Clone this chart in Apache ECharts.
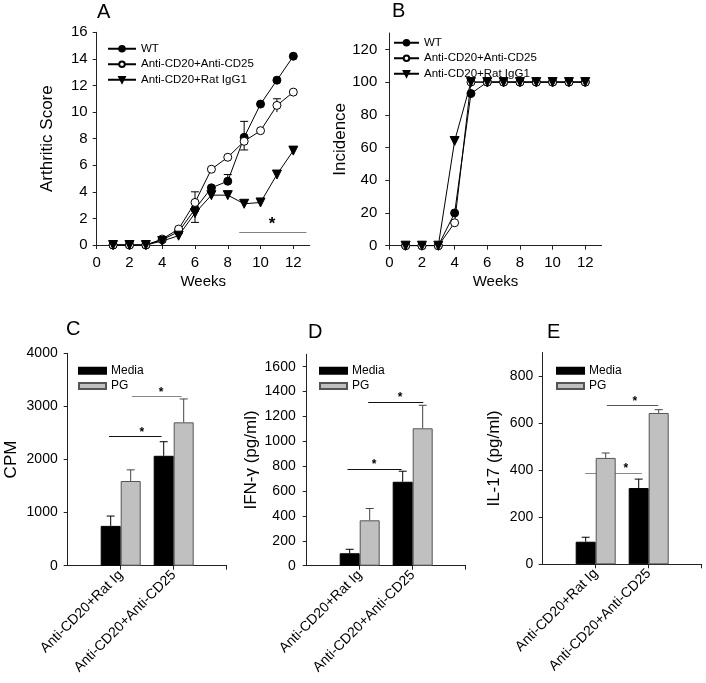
<!DOCTYPE html>
<html><head><meta charset="utf-8">
<script src="https://cdn.jsdelivr.net/npm/echarts@6/dist/echarts.min.js"></script>
<style>html,body{margin:0;padding:0;background:#fff}#c{width:706px;height:683px}</style>
</head><body><div id="c"></div>
<script>
// ---------- data ----------
const weeks = [1,2,3,4,5,6,7,8,9,10,11,12];
const weekTicks = [0,2,4,6,8,10,12];
const seriesNames = ['WT','Anti-CD20+Anti-CD25','Anti-CD20+Rat IgG1'];
const wtScore   = [0,0,0,0.4,1.0,2.7,4.3,4.8,8.1,10.6,12.4,14.2];
const cd25Score = [0,0,0,0.45,1.2,3.2,5.7,6.6,7.8,8.6,10.5,11.5];
const ratScore  = [0,0,0,0.3,0.7,2.4,3.75,3.75,3.1,3.2,5.3,7.1];
// error bars: [week, from, to]
const wtScoreErr   = [[4,0.4,0.6],[8,4.8,5.3],[9,8.1,9.3]];
const cd25ScoreErr = [[6,3.2,4.0],[9,7.8,7.15],[11,10.0,11.0]];
const ratScoreErr  = [[6,2.4,1.7]];
const scoreTicks = [0,2,4,6,8,10,12,14,16];
// significance bars: [fromX, toX, y, starX]
const sigA = [[8.7,12.8,0.93,10.7]];

const wtInc   = [0,0,0,20,93,100,100,100,100,100,100,100];
const cd25Inc = [0,0,0,14,100,100,100,100,100,100,100,100];
const ratInc  = [0,0,0,64,100,100,100,100,100,100,100,100];
const incTicks = [0,20,40,60,80,100,120];

const groups = ['Anti-CD20+Rat Ig','Anti-CD20+Anti-CD25'];
const barNames = ['Media','PG'];
const cpmMedia = [750, 2070],  cpmMediaTop = [935, 2335];
const cpmPG    = [1595, 2700], cpmPGTop    = [1805, 3140];
const cpmTicks = [0,1000,2000,3000,4000];
const sigC = [[0.78,1.77,2430,1.40],[1.21,2.15,3185,1.76]];

const ifnMedia = [100, 675],  ifnMediaTop = [132, 760];
const ifnPG    = [365, 1105], ifnPGTop    = [460, 1290];
const ifnTicks = [0,200,400,600,800,1000,1200,1400,1600];
const sigD = [[0.77,1.79,778,1.27],[1.16,2.2,1316,1.76]];

const il17Media = [96, 324],  il17MediaTop = [115, 362];
const il17PG    = [452, 643], il17PGTop    = [473, 657];
const il17Ticks = [0,200,400,600,800];
const sigE = [[0.80,1.87,388,1.57],[1.21,2.18,675,1.74]];

// ---------- styles ----------
const FONT = '"Liberation Sans", Arial, sans-serif';
const AX = '#222';
const sigColA = ['#808080'];
const sigColC = ['#111','#888'];
const sigColD = ['#111','#111'];
const sigColE = ['#888','#555'];

function xy(xs, ys){ return xs.map((x,i)=>[x, ys[i]]); }

function valueAxis(o){
  return Object.assign({
    type:'value', splitLine:{show:false},
    axisLine:{show:true, onZero:false, lineStyle:{color:AX, width:1}},
    axisTick:{show:true, length:4, inside:false, lineStyle:{color:AX}},
    axisLabel:{color:'#000', fontFamily:FONT, fontSize:15},
    nameTextStyle:{color:'#000', fontFamily:FONT, fontSize:17},
  }, o);
}

function weeksX(grid){
  return valueAxis({gridIndex:grid, min:0, max:13,
    axisTick:{show:true, length:4, lineStyle:{color:AX}, customValues:weekTicks},
    axisLabel:{color:'#000', fontFamily:FONT, fontSize:15, margin:10, customValues:weekTicks,
      formatter:(v)=>String(v)},
    name:'Weeks', nameLocation:'middle', nameGap:29,
    nameTextStyle:{color:'#000', fontFamily:FONT, fontSize:15}});
}
function leftY(grid, max, ticks, name, gap, fs, margin){
  return valueAxis({gridIndex:grid, min:0, max:max,
    axisTick:{show:true, length:4, lineStyle:{color:AX}, customValues:ticks},
    axisLabel:{color:'#000', fontFamily:FONT, fontSize:fs, margin:margin, customValues:ticks,
      formatter:(v)=>String(v)},
    name:name, nameLocation:'middle', nameRotate:90, nameGap:gap,
    nameTextStyle:{color:'#000', fontFamily:FONT, fontSize:17}});
}
function groupX(grid){
  return valueAxis({gridIndex:grid, min:0, max:3,
    axisTick:{show:true, length:4, lineStyle:{color:AX}, customValues:[1,2,3]},
    axisLabel:{color:'#000', fontFamily:FONT, fontSize:14, margin:7, rotate:45,
      customValues:[1,2], formatter:(v)=>groups[Math.round(v)-1]}});
}

const markers = [
  {symbol:'circle', size:8, fill:'#000', rot:0},
  {symbol:'circle', size:8, fill:'#fff', rot:0},
  {symbol:'triangle', size:9, fill:'#000', rot:180},
];
function lineSer(grid, idx, ys){
  const m = markers[idx];
  return {type:'line', name:seriesNames[idx], xAxisIndex:grid, yAxisIndex:grid,
    data:xy(weeks, ys), symbol:m.symbol, symbolSize:m.size, symbolRotate:m.rot,
    showSymbol:true, color:'#000', lineStyle:{color:'#000', width:1},
    itemStyle:{color:m.fill, borderColor:'#000', borderWidth:1},
    emphasis:{disabled:true}, animation:false, z:3};
}
function errSer(grid, data, offset, color, cap){
  return {type:'custom', xAxisIndex:grid, yAxisIndex:grid, data:data, z:2, silent:true,
    encode:{x:0, y:[1,2]}, animation:false,
    renderItem:(params, api)=>{
      const x = api.value(0), a = api.value(1), b = api.value(2);
      const p0 = api.coord([x,a]), p1 = api.coord([x,b]);
      const px = p0[0] + offset;
      return {type:'group', children:[
        {type:'line', shape:{x1:px, y1:p0[1], x2:px, y2:p1[1]}, style:{stroke:color, lineWidth:1}},
        {type:'line', shape:{x1:px-cap, y1:p1[1], x2:px+cap, y2:p1[1]}, style:{stroke:color, lineWidth:1}}
      ]};
    }};
}
function sigSer(grid, sig, cols, fs, dist){
  return {type:'line', xAxisIndex:grid, yAxisIndex:grid, data:[], z:1, silent:true, animation:false,
    markLine:{silent:true, z:1, symbol:['none','none'], animation:false,
      label:{show:false},
      data: sig.map((s,i)=>[
        {coord:[s[0], s[2]], lineStyle:{color:cols[i], width:1, type:'solid'}},
        {coord:[s[1], s[2]]}])},
    markPoint:{silent:true, z:4, animation:false, symbol:'circle', symbolSize:0,
      label:{show:true, position:'top', distance:dist, formatter:'*', color:'#000',
        fontSize:fs, fontWeight:'bold', fontFamily:FONT},
      data: sig.map(s=>({coord:[s[3], s[2]], value:'*'}))}};
}
function barSer(grid, nameIdx, vals){
  const media = nameIdx === 0;
  return {type:'bar', name:barNames[nameIdx], xAxisIndex:grid, yAxisIndex:grid,
    data:xy([1,2], vals), barWidth:20, barGap:'0%', z:2, animation:false,
    itemStyle:{color: media ? '#000' : '#c0c0c0', borderColor: media ? '#000' : '#555', borderWidth:1},
    emphasis:{disabled:true}};
}
function barErr(grid, vals, tops, offset, color){
  return errSer(grid, [1,2].map((x,i)=>[x, vals[i], tops[i]]), offset, color, 4);
}

const titleStyle = {fontSize:20, fontWeight:'normal', fontFamily:FONT, color:'#000'};
const lineLegend = (left, top, w) => ({left, top, orient:'vertical', padding:0, itemGap:2,
  itemWidth:w, itemHeight:7, selectedMode:false, data:seriesNames,
  textStyle:{fontSize:11.5, color:'#000', fontFamily:FONT, lineHeight:13.5}});
const barLegend = (left, top) => ({left, top, orient:'vertical', padding:0, itemGap:2,
  itemWidth:27, itemHeight:6, selectedMode:false,
  data:[{name:'Media', icon:'rect'},{name:'PG', icon:'rect'}],
  textStyle:{fontSize:12, color:'#000', fontFamily:FONT, lineHeight:13.3}});

const option = {
  backgroundColor:'#fff', animation:false,
  textStyle:{fontFamily:FONT},
  title:[
    {text:'A', left:97, top:2, padding:0, textStyle:titleStyle},
    {text:'B', left:392, top:1, padding:0, textStyle:titleStyle},
    {text:'C', left:66, top:319, padding:0, textStyle:titleStyle},
    {text:'D', left:308, top:322, padding:0, textStyle:titleStyle},
    {text:'E', left:547, top:322, padding:0, textStyle:titleStyle},
  ],
  legend:[
    lineLegend(107, 42, 28),
    lineLegend(393, 36, 25),
    barLegend(78, 364),
    barLegend(319, 364),
    barLegend(556, 364),
  ],
  grid:[
    {left:96.7, top:32.3, width:213, height:212.7, outerBoundsMode:'none'},
    {left:389.3, top:33, width:212.3, height:212.7, outerBoundsMode:'none'},
    {left:67.7, top:353.3, width:159, height:212.4, outerBoundsMode:'none'},
    {left:306.7, top:354.3, width:159, height:211.4, outerBoundsMode:'none'},
    {left:542.7, top:352.5, width:159, height:211.8, outerBoundsMode:'none'},
  ],
  xAxis:[ weeksX(0), weeksX(1), groupX(2), groupX(3), groupX(4) ],
  yAxis:[
    leftY(0, 16, scoreTicks, 'Arthritic Score', 41, 15, 9),
    leftY(1, 130, incTicks, 'Incidence', 40, 15, 12),
    leftY(2, 4000, cpmTicks, 'CPM', 48, 14, 10),
    leftY(3, 1700, ifnTicks, 'IFN-\u03b3 (pg/ml)', 47, 14, 11),
    leftY(4, 900, il17Ticks, 'IL-17 (pg/ml)', 40, 14, 9.5),
  ],
  series:[
    errSer(0, wtScoreErr, 0, '#000', 4),
    errSer(0, cd25ScoreErr, 0, '#000', 4),
    errSer(0, ratScoreErr, 0, '#000', 4),
    lineSer(0, 0, wtScore), lineSer(0, 1, cd25Score), lineSer(0, 2, ratScore),
    sigSer(0, sigA, sigColA, 17, 0),
    lineSer(1, 0, wtInc), lineSer(1, 1, cd25Inc), lineSer(1, 2, ratInc),

    barSer(2, 0, cpmMedia), barSer(2, 1, cpmPG),
    barErr(2, cpmMedia, cpmMediaTop, -10, '#000'), barErr(2, cpmPG, cpmPGTop, 10, '#444'),
    sigSer(2, sigC, sigColC, 12, -2),

    barSer(3, 0, ifnMedia), barSer(3, 1, ifnPG),
    barErr(3, ifnMedia, ifnMediaTop, -10, '#000'), barErr(3, ifnPG, ifnPGTop, 10, '#444'),
    sigSer(3, sigD, sigColD, 12, -2),

    barSer(4, 0, il17Media), barSer(4, 1, il17PG),
    barErr(4, il17Media, il17MediaTop, -10, '#000'), barErr(4, il17PG, il17PGTop, 10, '#444'),
    sigSer(4, sigE, sigColE, 12, -2),
  ]
};
const chart = echarts.init(document.getElementById('c'), null, {renderer:'canvas'});
chart.setOption(option);
</script></body></html>
